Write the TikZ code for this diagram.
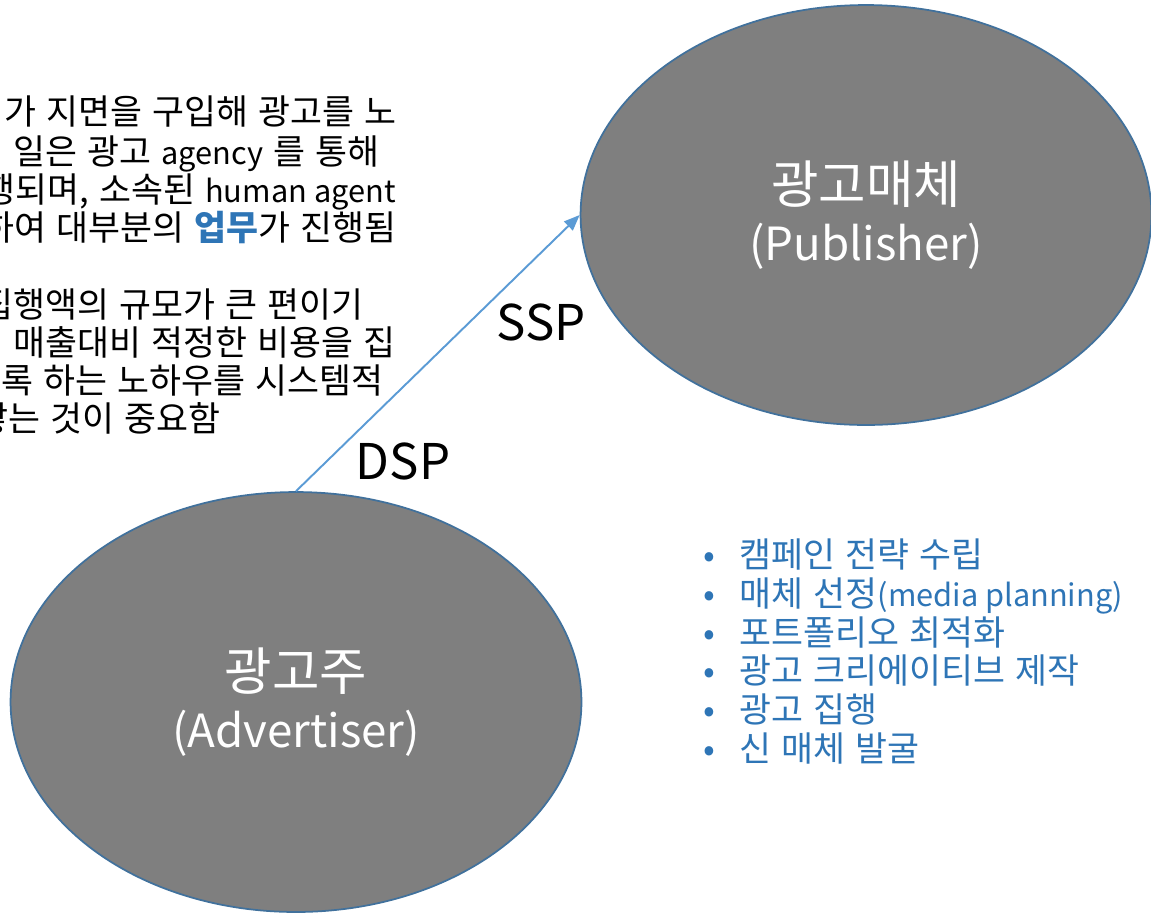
\documentclass[tikz,border=0pt]{standalone}
\usepackage{fontspec}
\setmainfont[Scale=1.13, WordSpace=1.3]{Noto Sans CJK KR}
\newfontfamily\latinfont{Noto Sans CJK KR}
\usetikzlibrary{shapes.geometric,arrows.meta}
\definecolor{mediagray}{RGB}{127,127,127}
\definecolor{rimblue}{RGB}{65,113,156}
\definecolor{arrowblue}{RGB}{91,155,213}
\definecolor{listblue}{RGB}{46,117,182}

\begin{document}
\begin{tikzpicture}[x=0.02cm, y=-0.02cm,
    party/.style={ellipse, draw=rimblue, fill=mediagray, line width=1pt, minimum width=11.42cm, minimum height=8.4cm, inner sep=0pt, align=center, text=white, font=\fontsize{26}{32.5}\selectfont},
    bodyline/.style={anchor=base east, inner sep=0pt, font=\fontsize{17.5}{22}\selectfont},
    platform/.style={inner sep=0pt, font=\fontsize{28}{34}\selectfont\latinfont}]
    % Canvas
    \useasboundingbox (0,0) rectangle (1151,914);

    % Publisher and advertiser
    \node[party] (pub) at (866,215) {광고매체\\{\latinfont (Publisher)}};
    \node[party] (adv) at (296,702) {광고주\\{\latinfont (Advertiser)}};

    % Buying path
    \draw[arrowblue, line width=1.1pt, -{Triangle[length=9pt, width=7pt]}] (adv.north) -- (pub.west);
    \node[platform] (ssp) at (541,322) {SSP};
    \node[platform] (dsp) at (403,461) {DSP};

    % Agency note, first paragraph
    \node[bodyline] (note1) at (397,124) {가 지면을 구입해 광고를 노};
    \node[bodyline] (note2) at (380,164) {일은 광고 {\latinfont agency} 를 통해};
    \node[bodyline] (note3) at (396,202) {행되며, 소속된 {\latinfont human agent}};
    \node[bodyline] (note4) at (397,240) {하여 대부분의 \textcolor{listblue}{\bfseries 업무}가 진행됨};

    % Agency note, second paragraph
    \node[bodyline] (note5) at (364,317) {집행액의 규모가 큰 편이기};
    \node[bodyline] (note6) at (396,355) {매출대비 적정한 비용을 집};
    \node[bodyline] (note7) at (384,393) {록 하는 노하우를 시스템적};
    \node[bodyline] (note8) at (221,431) {쌓는 것이 중요함};

    % Agency tasks
    \node[anchor=base west, inner sep=0pt, align=left, text=listblue, font=\fontsize{17.5}{22}\selectfont] (tasks) at (703,761) {%
        \textbullet\hspace{14pt}캠페인 전략 수립\\
        \textbullet\hspace{14pt}매체 선정{\latinfont (media planning)}\\
        \textbullet\hspace{14pt}포트폴리오 최적화\\
        \textbullet\hspace{14pt}광고 크리에이티브 제작\\
        \textbullet\hspace{14pt}광고 집행\\
        \textbullet\hspace{14pt}신 매체 발굴};
\end{tikzpicture}
\end{document}
